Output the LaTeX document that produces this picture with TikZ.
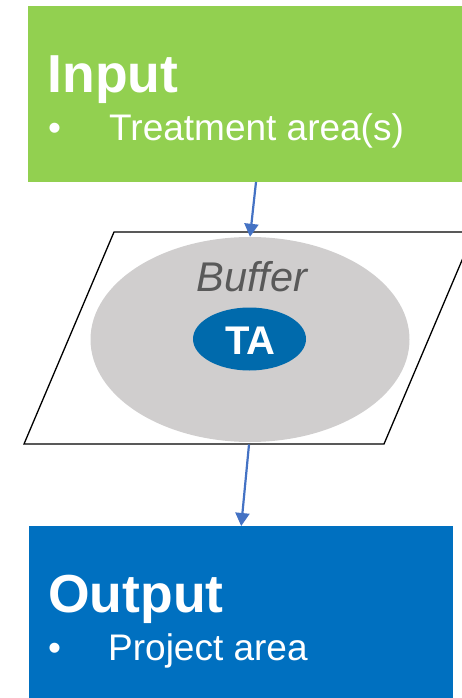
\documentclass[tikz,border=0pt]{standalone}
\usepackage{fontspec}
\setmainfont{Liberation Sans}
\usetikzlibrary{arrows.meta,shapes.geometric}
\definecolor{ingreen}{HTML}{92D050}
\definecolor{outblue}{HTML}{0070C0}
\definecolor{tablue}{HTML}{006AAC}
\definecolor{bufgray}{HTML}{D0CECE}
\definecolor{buftext}{HTML}{595959}
\definecolor{arrowblue}{HTML}{4472C4}
\tikzset{
  panel/.style={draw=none, rectangle, anchor=north west, inner sep=0pt},
  headtxt/.style={anchor=base west, inner sep=0pt, text=white, font=\fontsize{53.5}{60}\selectfont\bfseries},
  itemtxt/.style={anchor=base west, inner sep=0pt, text=white, font=\fontsize{37}{42}\selectfont},
  conn/.style={draw=arrowblue, line width=2.2pt, -{Triangle[width=14pt,length=13pt]}},
}
\begin{document}
\begin{tikzpicture}[x=1pt,y=-1pt]
\useasboundingbox (0,0) rectangle (462,698);
\clip (0,0) rectangle (462,698);
% input panel
\node[panel, fill=ingreen, minimum width=450pt, minimum height=176pt] (in) at (28,6) {};
\node[headtxt] (intitle) at (47.5,93) {Input};
\node[itemtxt] (inbul) at (48,140) {•};
\node[itemtxt] (initem) at (109,140) {Treatment area(s)};
% plane
\draw[black, line width=1.3pt] (114,232) -- (474,232) -- (384,444) -- (24,444) -- cycle;
\node[ellipse, fill=bufgray, draw=none, inner sep=0pt, minimum width=319pt, minimum height=205pt] (buf) at (250,339.5) {};
\node[anchor=base, inner sep=0pt, text=buftext, font=\fontsize{41.5}{46}\selectfont\itshape] (buflabel) at (252,291) {Buffer};
\node[ellipse, fill=tablue, draw=none, inner sep=0pt, minimum width=113pt, minimum height=63pt] (ta) at (249.5,339) {};
\node[anchor=base, inner sep=0pt, text=white, font=\fontsize{40}{46}\selectfont\bfseries] (talabel) at (250.5,354) {TA};
% output panel
\node[panel, fill=outblue, minimum width=424pt, minimum height=180pt] (out) at (29,526) {};
\node[headtxt] (outtitle) at (48,612) {Output};
\node[itemtxt] (outbul) at (48,660) {•};
\node[itemtxt] (outitem) at (108,660) {Project area};
% connectors
\coordinate (inbot) at (256,182);
\coordinate (planebot) at (249,444.5);
\draw[conn] (inbot) -- (buf.north);
\draw[conn] (planebot) -- (out.north);
\end{tikzpicture}
\end{document}
